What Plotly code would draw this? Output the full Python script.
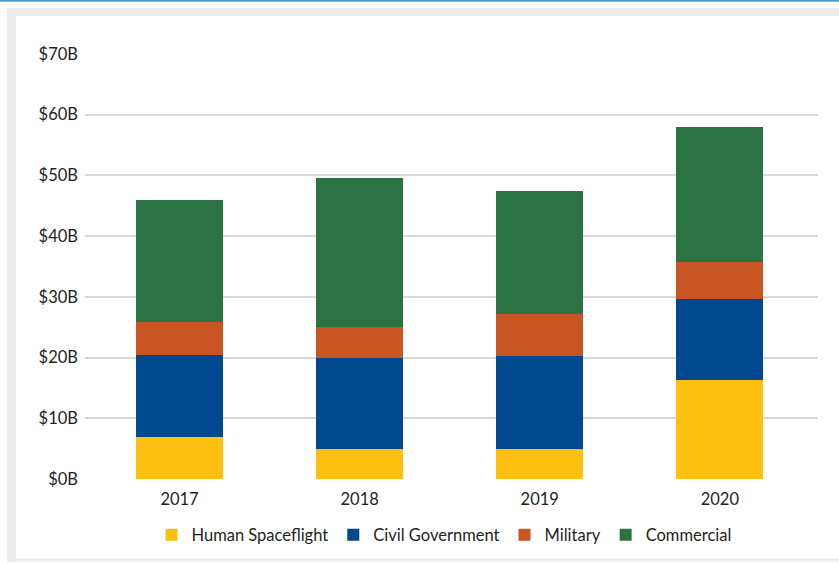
import plotly.graph_objects as go

# Space budget by sector, billions of US dollars
years = ["2017", "2018", "2019", "2020"]
human_spaceflight = [7.0, 5.0, 5.0, 16.3]
civil_government = [13.5, 14.9, 15.2, 13.4]
military = [5.3, 5.2, 6.9, 6.1]
commercial = [20.2, 24.4, 20.4, 22.2]

series = [
    ("Human Spaceflight", human_spaceflight, "#FDC010"),
    ("Civil Government", civil_government, "#00498F"),
    ("Military", military, "#C95622"),
    ("Commercial", commercial, "#2C7343"),
]

W, H = 839, 563
L, R, T, B = 85, 21, 54, 83
plot_w, plot_h = W - L - R, H - T - B

fig = go.Figure()
for name, vals, color in series:
    fig.add_trace(go.Bar(
        x=list(range(len(years))), y=vals, name=name,
        marker=dict(color=color, line=dict(width=0)),
        width=0.483,
    ))


def px(x):
    return (x - L) / plot_w


def py(y):
    return (H - B - y) / plot_h


frame = "#EDEDED"
shapes = [
    # top accent rule
    dict(type="rect", xref="paper", yref="paper", x0=px(0), x1=px(W), y0=py(1.5), y1=py(0),
         fillcolor="#0A7ABF", line=dict(width=0), layer="below"),
    # grey frame
    dict(type="rect", xref="paper", yref="paper", x0=px(7), x1=px(W), y0=py(16), y1=py(8),
         fillcolor=frame, line=dict(width=0), layer="below"),
    dict(type="rect", xref="paper", yref="paper", x0=px(7), x1=px(16), y0=py(H), y1=py(8),
         fillcolor=frame, line=dict(width=0), layer="below"),
    dict(type="rect", xref="paper", yref="paper", x0=px(7), x1=px(W), y0=py(H), y1=py(560),
         fillcolor=frame, line=dict(width=0), layer="below"),
]

font = "Lato, 'Open Sans', sans-serif"
ink = "#231F20"
fs = 16.5
fig.update_layout(
    width=W, height=H,
    margin=dict(l=L, r=R, t=T, b=B, pad=0),
    paper_bgcolor="white", plot_bgcolor="white",
    barmode="stack", bargap=0,
    font=dict(family=font, size=fs, color=ink),
    shapes=shapes,
    showlegend=True,
    legend=dict(
        orientation="h", x=px(444), xanchor="center", y=py(535), yanchor="middle",
        font=dict(family=font, size=fs, color=ink),
        traceorder="normal", itemwidth=30, bgcolor="rgba(0,0,0,0)",
    ),
    xaxis=dict(
        tickmode="array", tickvals=list(range(len(years))), ticktext=years,
        range=[-0.525, 3.545], showgrid=False, zeroline=False, showline=False,
        ticks="", ticklen=0, tickfont=dict(size=fs, color=ink), fixedrange=True,
        ticklabelstandoff=8,
    ),
    yaxis=dict(
        range=[0, 70], dtick=10, tickprefix="$", ticksuffix="B",
        showgrid=True, gridcolor="#D9D9D9", gridwidth=1.6,
        zeroline=False, showline=False, ticks="", ticklabelstandoff=6,
        tickfont=dict(size=fs, color=ink),
    ),
)

fig.write_html("out.html")
